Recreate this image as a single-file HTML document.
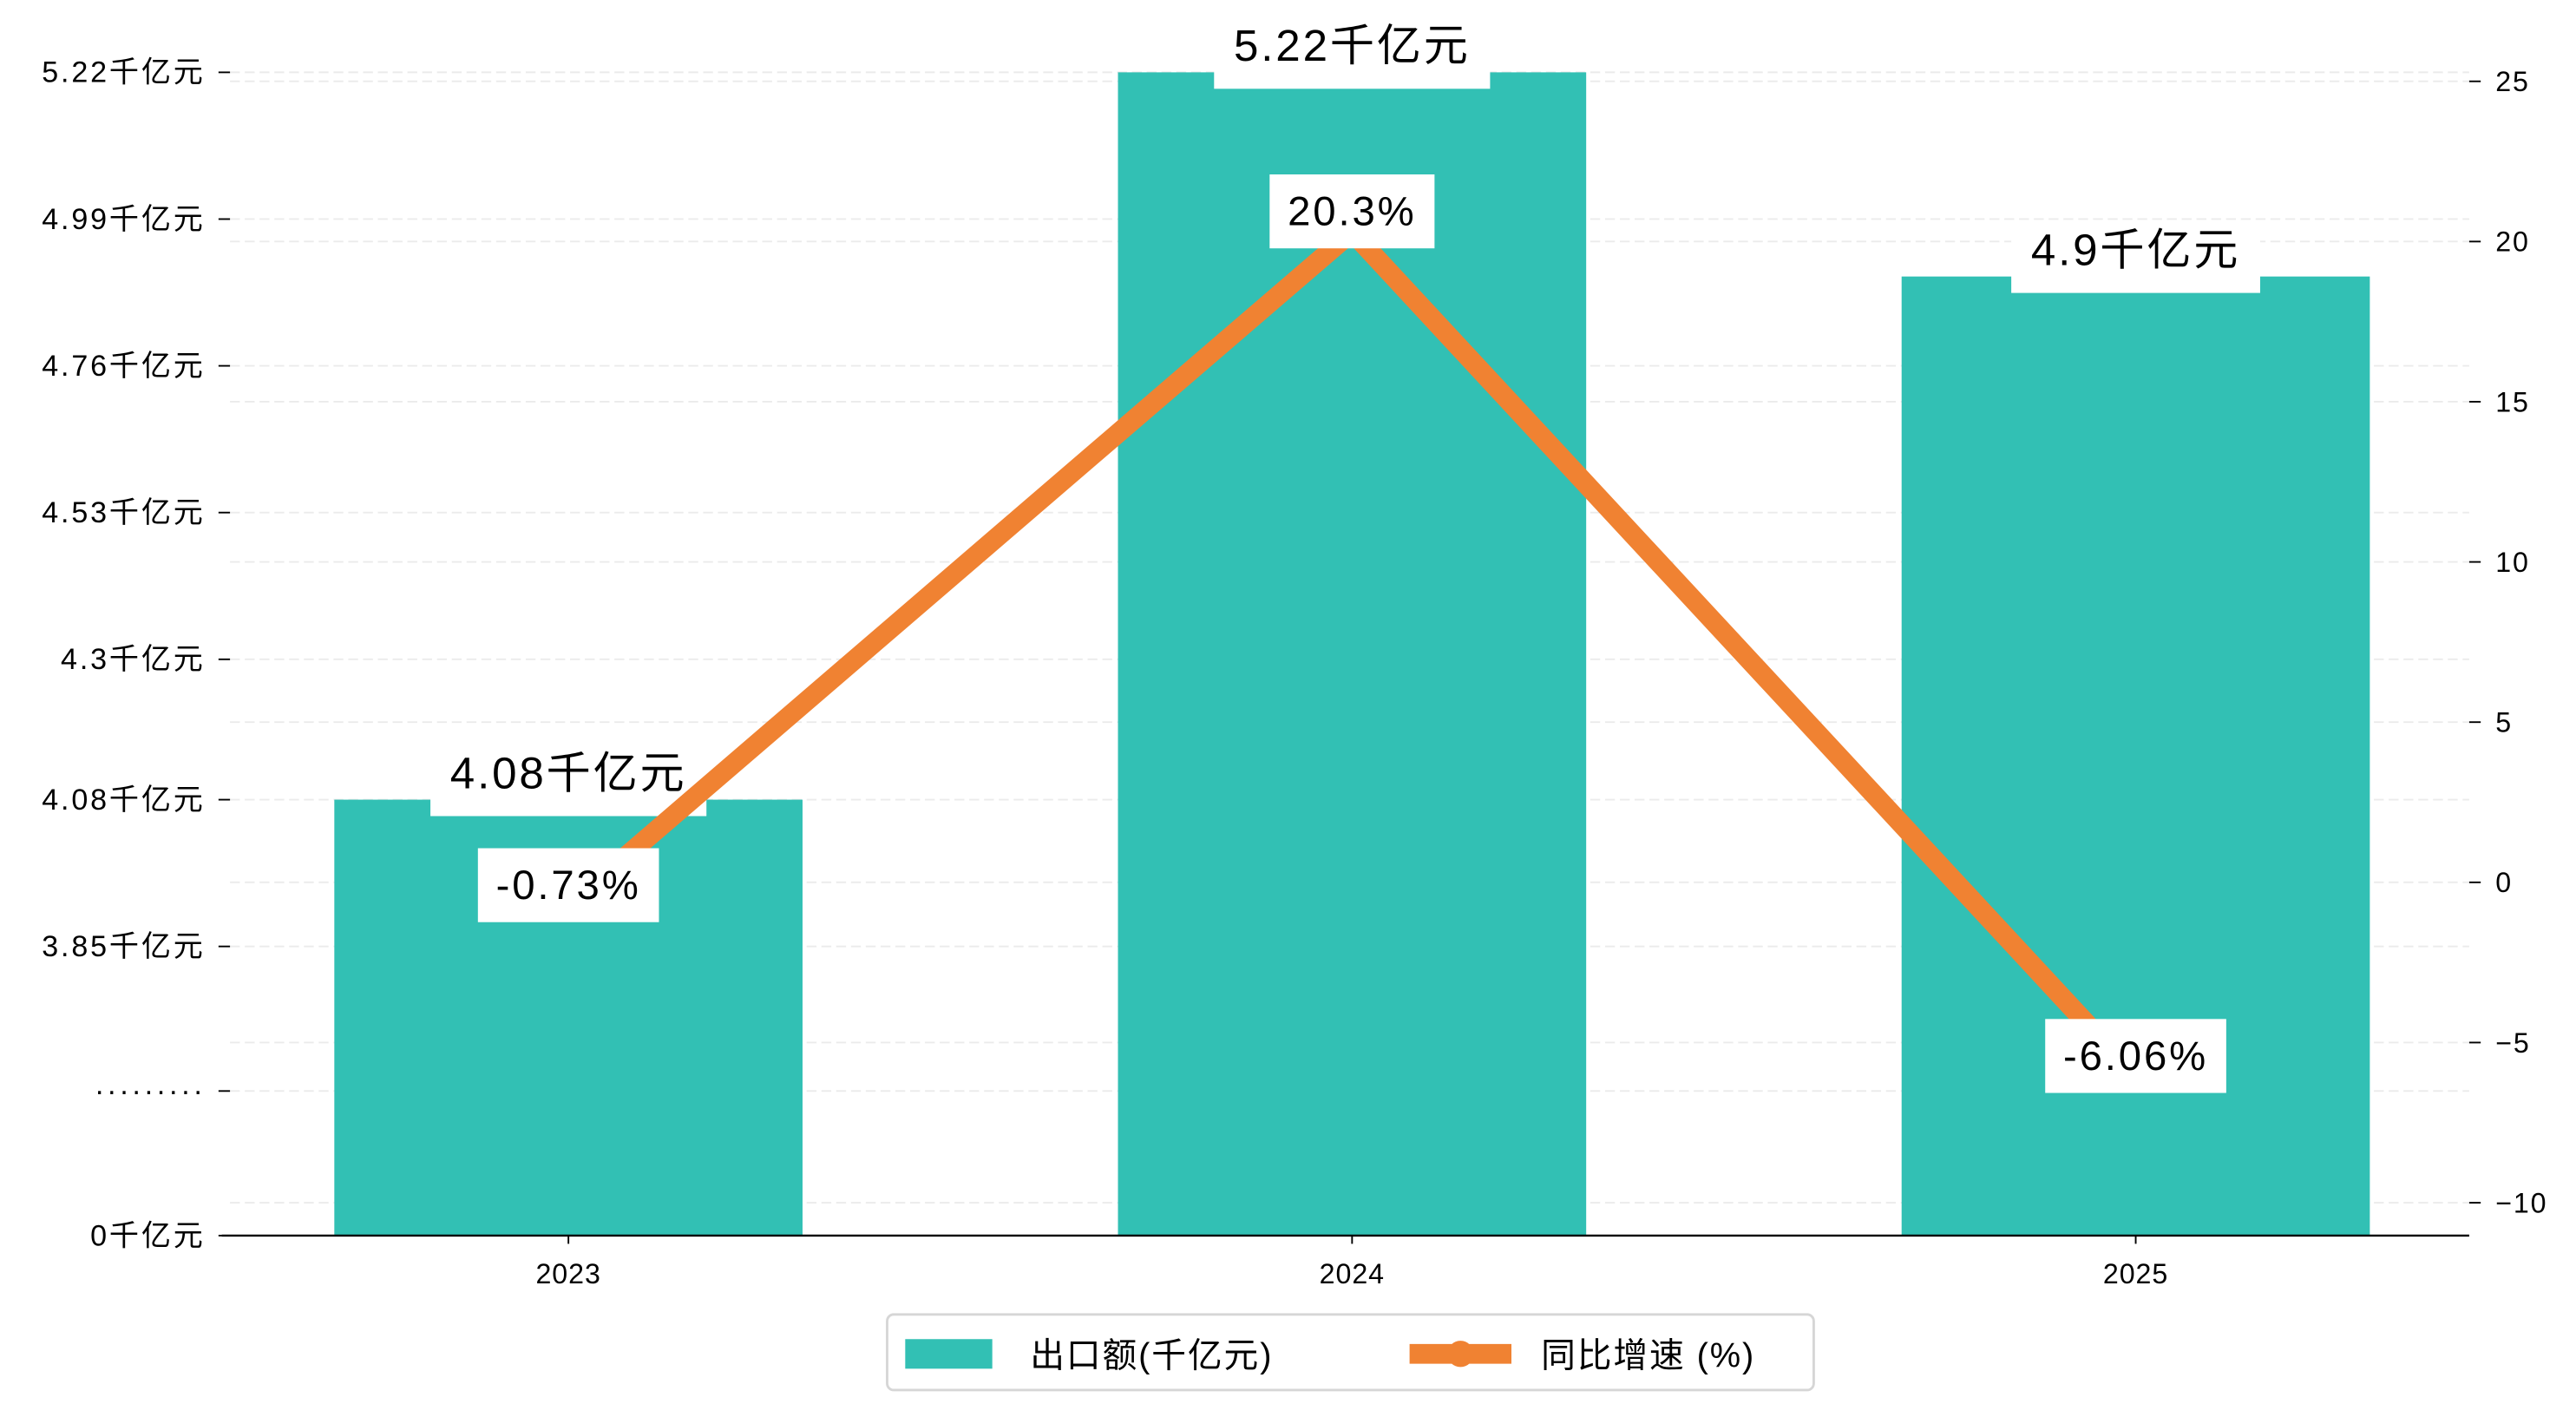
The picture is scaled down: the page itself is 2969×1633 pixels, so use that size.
<!DOCTYPE html>
<html><head><meta charset="utf-8"><style>
html,body{margin:0;padding:0;background:#fff;}
svg{display:block;}
text{font-family:"Liberation Sans","Noto Sans CJK SC",sans-serif;}
</style></head><body>
<svg id="chart" width="2969" height="1633" viewBox="0 0 1568 862.4" preserveAspectRatio="none" xmlns="http://www.w3.org/2000/svg">
<rect width="1568" height="862.4" fill="#fff"/>
<g id="grid"></g>
<g id="bars"></g>
<g id="barlabels"></g>
<g id="line"></g>
<g id="linelabels"></g>
<g id="axes"></g>
<g>
<rect x="540" y="800" width="564" height="46" rx="4" fill="#fff" stroke="#d6d6d6" stroke-width="1.5"/>
<rect x="551" y="815" width="53" height="18" fill="#32c0b4"/>
<text x="627" y="832" font-size="21" fill="#000" letter-spacing="1">出口额(千亿元)</text>
<line x1="858" y1="824" x2="920" y2="824" stroke="#f08232" stroke-width="12"/>
<circle cx="889" cy="824" r="8" fill="#f08232"/>
<text x="938" y="832" font-size="21" fill="#000" letter-spacing="1">同比增速 (%)</text>
</g>
</svg>
<script>
const categories = ["2023","2024","2025"];
const exportValues = [4.08, 5.22, 4.9];
const exportLabels = ["4.08千亿元","5.22千亿元","4.9千亿元"];
const growthValues = [-0.73, 20.3, -6.06];
const growthLabels = ["-0.73%","20.3%","-6.06%"];
const leftTickValues = [5.22, 4.99, 4.76, 4.53, 4.3, 4.08, 3.85];
const leftTickLabels = ["5.22千亿元","4.99千亿元","4.76千亿元","4.53千亿元","4.3千亿元","4.08千亿元","3.85千亿元"];
const rightTicks = [25, 20, 15, 10, 5, 0, -5, -10];

const NS = "http://www.w3.org/2000/svg";
const X0 = 140, X1 = 1503, BASE = 752;
function xPos(i){ return 346 + i*477; }
function yLeft(v){ return 576 - (v-3.85)*388.3; }
function yRight(v){ return 537 - v*19.5; }
function mk(tag, attrs, parent){ const e=document.createElementNS(NS,tag); for(const k in attrs) e.setAttribute(k,attrs[k]); parent.appendChild(e); return e; }
const grid=document.getElementById('grid'), bars=document.getElementById('bars'), bl=document.getElementById('barlabels'), ln=document.getElementById('line'), ll=document.getElementById('linelabels'), ax=document.getElementById('axes');

const gridYs = leftTickValues.map(yLeft).concat([664]).concat(rightTicks.map(yRight));
gridYs.forEach(y=>{
  const g=mk('line',{x1:X0,x2:X1,y1:y,y2:y,stroke:'#ebebeb','stroke-width':1,'stroke-dasharray':'6,3'},grid);
  
  
});

categories.forEach((c,i)=>{
  const top=yLeft(exportValues[i]);
  const r=mk('rect',{x:xPos(i)-142.5,y:top,width:285,height:BASE-top,fill:'#32c0b4'},bars);
  
  
  const t=mk('text',{x:xPos(i),y:top-7,'text-anchor':'middle','font-size':27,fill:'#000','letter-spacing':1.5},bl);
  t.textContent=exportLabels[i];
  
  
  const w=t.getBBox().width+24;
  const b=mk('rect',{x:xPos(i)-w/2,y:top-34,width:w,height:44,fill:'#fff'},bl);
  bl.insertBefore(b,t);
  
  
});

const pts=categories.map((c,i)=>xPos(i)+','+yRight(growthValues[i])).join(' ');
const pl=mk('polyline',{points:pts,fill:'none',stroke:'#f08232','stroke-width':12,'stroke-linejoin':'miter'},ln);



categories.forEach((c,i)=>{
  const cy=yRight(growthValues[i])-13;
  const t=mk('text',{x:xPos(i),y:cy+9,'text-anchor':'middle','font-size':25,fill:'#000','letter-spacing':1.5},ll);
  t.textContent=growthLabels[i];
  
  
  const w=t.getBBox().width+22;
  const b=mk('rect',{x:xPos(i)-w/2,y:cy-22,width:w,height:45,fill:'#fff'},ll);
  ll.insertBefore(b,t);
  
  
});

const xa=mk('line',{x1:135,x2:X1,y1:BASE,y2:BASE,stroke:'#000','stroke-width':1.3},ax);


categories.forEach((c,i)=>{
  mk('line',{x1:xPos(i),x2:xPos(i),y1:BASE,y2:BASE+5,stroke:'#000','stroke-width':1},ax);
  const t=mk('text',{x:xPos(i),y:BASE+29,'text-anchor':'middle','font-size':17,fill:'#000','letter-spacing':0.5},ax);
  t.textContent=c;
  
  
});
const lt=leftTickValues.map((v,i)=>[yLeft(v),leftTickLabels[i]]).concat([[664,'·········'],[752,'0千亿元']]);
lt.forEach(([y,s])=>{
  mk('line',{x1:133,x2:140,y1:y,y2:y,stroke:'#000','stroke-width':1},ax);
  const t=mk('text',{x:125,y:y+6,'text-anchor':'end','font-size':18,fill:'#000','letter-spacing':1.5},ax);
  t.textContent=s;
  
  
});
rightTicks.forEach(v=>{
  const y=yRight(v);
  mk('line',{x1:1503,x2:1510,y1:y,y2:y,stroke:'#000','stroke-width':1},ax);
  const t=mk('text',{x:1519,y:y+6,'text-anchor':'start','font-size':17,fill:'#000','letter-spacing':1},ax);
  t.textContent=v<0?'−'+Math.abs(v):String(v);
  
  
});
</script>
</body></html>
